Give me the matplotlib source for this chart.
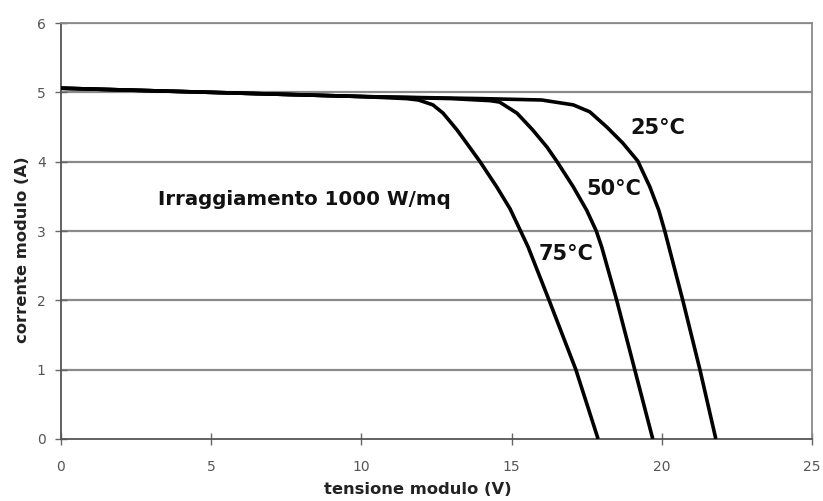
import matplotlib.pyplot as plt

# I-V curves of a PV module at 1000 W/m2, three cell temperatures
v_25 = [0, 5, 10, 14, 16, 17.05, 17.6, 18.17, 18.7, 19.2, 19.6, 19.9, 20.1, 20.7, 21.27, 21.8]
i_25 = [5.06, 5.0, 4.94, 4.91, 4.89, 4.82, 4.72, 4.5, 4.27, 4.01, 3.64, 3.3, 3.0, 2.0, 1.0, 0]

v_50 = [0, 5, 10, 13, 14.3, 14.6, 15.18, 15.7, 16.18, 16.5, 17.05, 17.5, 17.82, 18.0, 18.5, 19.1, 19.7]
i_50 = [5.06, 5.0, 4.94, 4.91, 4.88, 4.86, 4.70, 4.46, 4.21, 4.01, 3.64, 3.3, 3.0, 2.77, 2.0, 1.0, 0]

v_75 = [0, 5, 10, 11.5, 11.9, 12.38, 12.72, 13.18, 13.5, 13.95, 14.5, 14.95, 15.3, 15.55, 16.25, 17.14, 17.88]
i_75 = [5.06, 5.0, 4.94, 4.91, 4.89, 4.82, 4.70, 4.46, 4.27, 4.0, 3.64, 3.32, 3.0, 2.77, 2.0, 1.0, 0]

x_ticks = [0, 5, 10, 15, 20, 25]
y_ticks = [0, 1, 2, 3, 4, 5, 6]

fig = plt.figure(figsize=(8.23, 5.01), dpi=100)
ax = fig.add_axes([0.0741, 0.1238, 0.9125, 0.8302])

for y in y_ticks[1:]:
    ax.axhline(y, color="#8a8a8a", lw=1.6, zorder=1)

for v, i in [(v_25, i_25), (v_50, i_50), (v_75, i_75)]:
    ax.plot(v, i, color="black", lw=2.6, zorder=3,
            solid_joinstyle="round", solid_capstyle="butt")

ax.set_xlim(0, 25)
ax.set_ylim(0, 6)
ax.set_xticks(x_ticks)
ax.set_yticks(y_ticks)
ax.tick_params(direction="inout", length=8, width=1, color="#666666",
               labelcolor="#555555", labelsize=10)
ax.tick_params(axis="x", pad=11)
ax.tick_params(axis="y", pad=7)

for s in ["left", "bottom"]:
    ax.spines[s].set_color("#555555")
    ax.spines[s].set_linewidth(1.3)
for s in ["top", "right"]:
    ax.spines[s].set_color("#8a8a8a")
    ax.spines[s].set_linewidth(1.3)

lab_kw = dict(fontsize=11.8, fontweight="bold", color="#222222")
ax.set_xlabel("tensione modulo (V)", **lab_kw)
ax.set_ylabel("corrente modulo (A)", **lab_kw)
ax.xaxis.set_label_coords(0.475, -0.104)
ax.yaxis.set_label_coords(-0.041, 0.455)

ax.text(3.23, 3.45, "Irraggiamento 1000 W/mq", ha="left", va="center",
        fontsize=14.2, fontweight="bold", color="#111111", zorder=4)
lbl_kw = dict(fontsize=15, fontweight="bold", color="#111111", zorder=4,
              ha="center", va="center")
ax.text(19.87, 4.49, "25°C", **lbl_kw)
ax.text(18.41, 3.61, "50°C", **lbl_kw)
ax.text(16.81, 2.67, "75°C", **lbl_kw)

fig.savefig("out.png", dpi=100)
